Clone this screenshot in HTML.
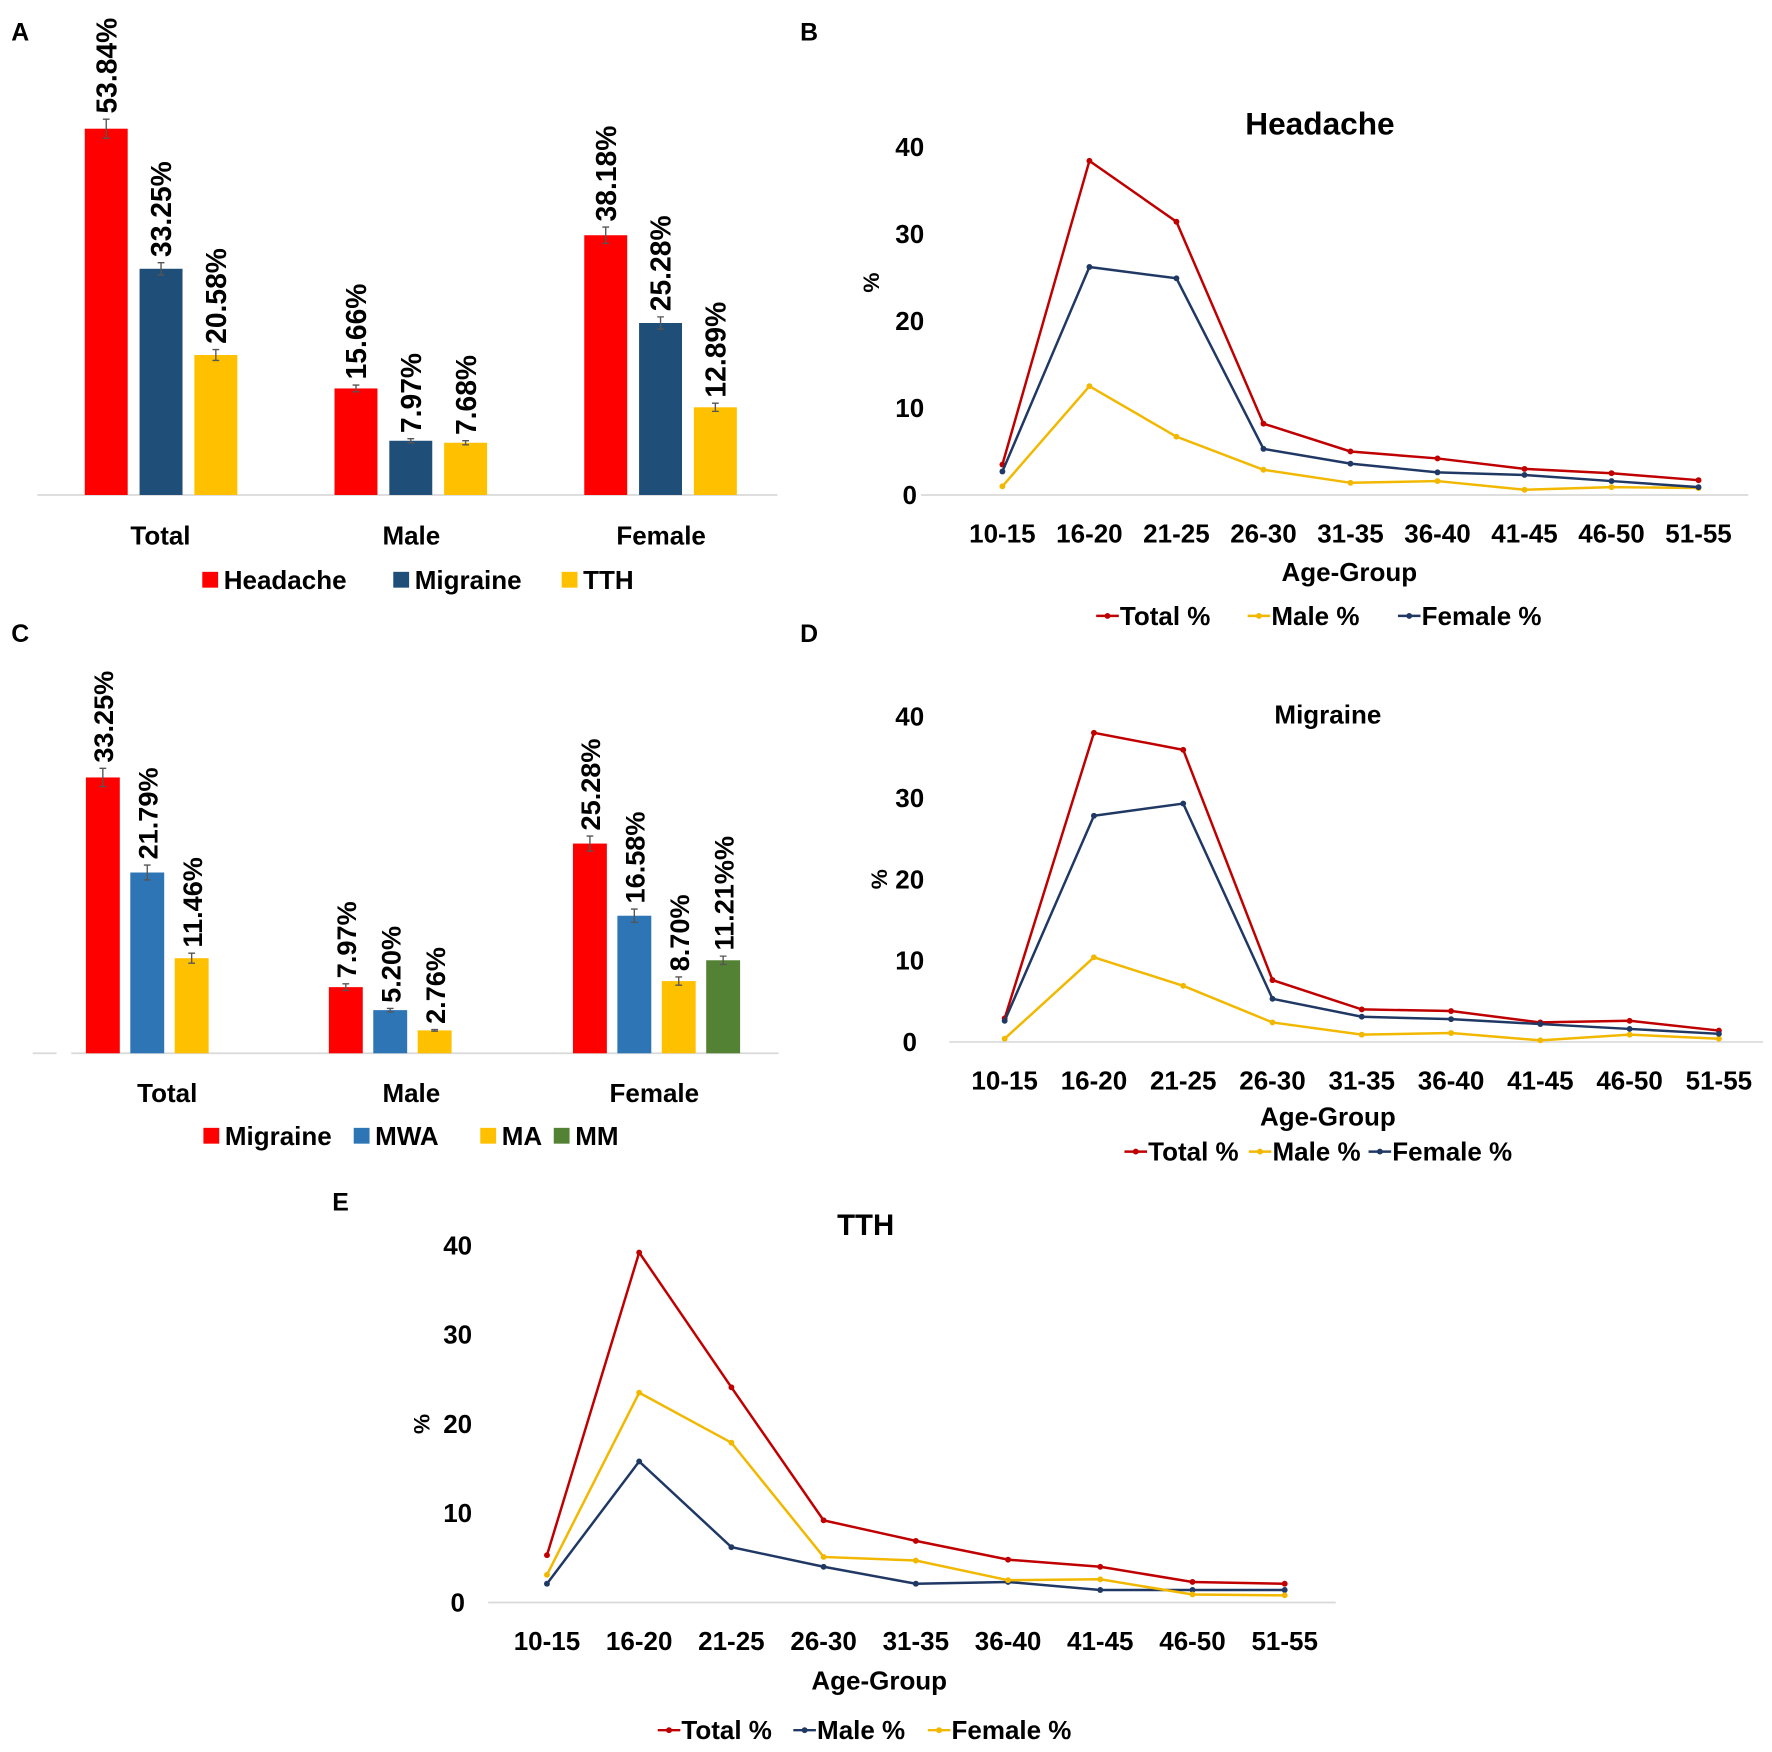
<!DOCTYPE html>
<html><head><meta charset="utf-8">
<style>
html,body{margin:0;padding:0;background:#fff;}
svg{display:block;font-family:"Liberation Sans Narrow","Liberation Sans",sans-serif;font-weight:bold;}
</style></head>
<body>
<svg id="fig" width="1772" height="1752" viewBox="0 0 1568 1550.3" preserveAspectRatio="none" xmlns="http://www.w3.org/2000/svg">
<g fill="#000" font-family="Liberation Sans, sans-serif" font-size="22">
<text x="10" y="36">A</text>
<text x="708" y="36">B</text>
<text x="10" y="568">C</text>
<text x="708" y="568">D</text>
<text x="294" y="1071">E</text>
</g>
</svg>
<script>
// ---- Panel A data ----
const aCategories = ["Total","Male","Female"];
const aSeriesNames = ["Headache","Migraine","TTH"];
const aHeadache = [53.84,15.66,38.18];
const aMigraine = [33.25,7.97,25.28];
const aTTH = [20.58,7.68,12.89];
const aHeadacheErr = [1.4,0.5,1.2];
const aMigraineErr = [0.9,0.3,0.9];
const aTTHErr = [0.8,0.3,0.6];
const aLabels = [["53.84%","15.66%","38.18%"],["33.25%","7.97%","25.28%"],["20.58%","7.68%","12.89%"]];
// ---- Panel C data ----
const cCategories = ["Total","Male","Female"];
const cSeriesNames = ["Migraine","MWA","MA","MM"];
const cMigraine = [33.25,7.97,25.28];
const cMWA = [21.79,5.20,16.58];
const cMA = [11.46,2.76,8.70];
const cMM = [null,null,11.21];
const cMigraineErr = [1.1,0.4,0.9];
const cMWAErr = [0.9,0.2,0.8];
const cMAErr = [0.6,0.1,0.5];
const cMMErr = [null,null,0.5];
const cLabels = [["33.25%","7.97%","25.28%"],["21.79%","5.20%","16.58%"],["11.46%","2.76%","8.70%"],[null,null,"11.21%%"]];
// ---- Line chart data ----
const ageGroups = ["10-15","16-20","21-25","26-30","31-35","36-40","41-45","46-50","51-55"];
const yTicks = [0,10,20,30,40];
const bTotal = [3.5,38.4,31.4,8.2,5.0,4.2,3.0,2.5,1.7];
const bMale = [1.0,12.5,6.7,2.9,1.4,1.6,0.6,0.9,0.8];
const bFemale = [2.7,26.2,24.9,5.3,3.6,2.6,2.3,1.6,0.9];
const dTotal = [2.9,38.0,35.9,7.6,4.0,3.8,2.4,2.6,1.4];
const dMale = [0.4,10.4,6.9,2.4,0.9,1.1,0.2,0.9,0.4];
const dFemale = [2.6,27.8,29.3,5.3,3.1,2.8,2.2,1.6,1.0];
const eTotal = [5.3,39.2,24.1,9.2,6.9,4.8,4.0,2.3,2.1];
const eMale = [2.1,15.8,6.2,4.0,2.1,2.3,1.4,1.4,1.4];
const eFemale = [3.1,23.5,17.9,5.1,4.7,2.5,2.6,0.9,0.8];

const NS="http://www.w3.org/2000/svg";
const svg=document.getElementById('fig');
function mk(tag,attrs,parent,txt){const e=document.createElementNS(NS,tag);for(const k in attrs)e.setAttribute(k,attrs[k]);if(txt!==undefined)e.textContent=txt;(parent||svg).appendChild(e);return e;}

function barChart(o){
  const g=mk('g',{});
  
  
  const y=v=>o.base-v*o.scale;
  const ax=mk('line',{x1:o.axisX0,x2:o.axisX1,y1:o.base,y2:o.base,stroke:'#d9d9d9','stroke-width':1.5},g);
  
  
  o.series.forEach((s,si)=>{
    s.vals.forEach((v,ci)=>{
      if(v===null)return;
      const x=o.groupX[ci]+si*o.step;
      const r=mk('rect',{x:x,y:y(v),width:o.bw,height:v*o.scale,fill:o.colors[si]},g);
      
      
      const cx=x+o.bw/2, e=s.err[ci];
      const eb=mk('path',{d:`M${cx-3},${y(v+e)}H${cx+3}M${cx},${y(v+e)}V${y(v-e)}M${cx-3},${y(v-e)}H${cx+3}`,stroke:'#555','stroke-width':1.2,fill:'none'},g);
      
      
      const ly=y(v+e)-5;
      const t=mk('text',{x:cx+9,y:ly,transform:`rotate(-90 ${cx+9} ${ly})`,'font-size':o.lblSize,fill:'#000'},g,s.labels[ci]);
      
      
    });
  });
  o.cats.forEach((c,ci)=>{
    const t=mk('text',{x:o.catX[ci],y:o.catY,'text-anchor':'middle','font-size':23},g,c);
    
    
  });
  o.seriesNames.forEach((n,si)=>{
    const r=mk('rect',{x:o.legX[si],y:o.legY-15,width:14,height:14,fill:o.colors[si]},g);
    
    
    const t=mk('text',{x:o.legX[si]+19,y:o.legY,'font-size':23},g,n);
    
    
  });
}

barChart({name:'panel-a-bar-chart',cats:aCategories,seriesNames:aSeriesNames,base:438,scale:6.02,axisX0:33,axisX1:688,
  groupX:[75,296,517],step:48.5,bw:38,colors:['#ff0000','#1f4e79','#ffc000'],lblSize:25,
  series:[{vals:aHeadache,err:aHeadacheErr,labels:aLabels[0]},{vals:aMigraine,err:aMigraineErr,labels:aLabels[1]},{vals:aTTH,err:aTTHErr,labels:aLabels[2]}],
  catX:[142,364,585],catY:482,legX:[179,348,497],legY:521});
barChart({name:'panel-c-bar-chart',cats:cCategories,seriesNames:cSeriesNames,base:932,scale:7.34,axisX0:63,axisX1:689,
  groupX:[76,291,507],step:39.3,bw:30,colors:['#ff0000','#2e75b6','#ffc000','#548235'],lblSize:24,
  series:[{vals:cMigraine,err:cMigraineErr,labels:cLabels[0]},{vals:cMWA,err:cMWAErr,labels:cLabels[1]},{vals:cMA,err:cMAErr,labels:cLabels[2]},{vals:cMM,err:cMMErr,labels:cLabels[3]}],
  catX:[148,364,579],catY:975,legX:[180,313,425,490],legY:1013});
const stub=mk('line',{x1:29,x2:50,y1:932,y2:932,stroke:'#d9d9d9','stroke-width':1.5});



function lineChart(o){
  const g=mk('g',{});
  
  
  const y=v=>o.base-v*o.scale, x=i=>o.x0+i*o.dx;
  const ax=mk('line',{x1:o.axisX0,x2:o.axisX1,y1:o.base,y2:o.base,stroke:'#d9d9d9','stroke-width':1.5},g);
  
  
  const ti=mk('text',{x:o.titleX,y:o.titleY,'text-anchor':'middle','font-size':o.titleSize},g,o.title);
  
  
  yTicks.forEach(t=>{
    const e=mk('text',{x:o.tickX,y:y(t)+8,'text-anchor':'middle','font-size':23},g,String(t));
    
    
  });
  const pc=mk('text',{x:o.pctX,y:o.pctY,transform:`rotate(-90 ${o.pctX} ${o.pctY})`,'text-anchor':'middle','font-size':20},g,'%');
  
  
  ageGroups.forEach((a,i)=>{
    const e=mk('text',{x:x(i),y:o.base+42,'text-anchor':'middle','font-size':23},g,a);
    
    
  });
  const xt=mk('text',{x:o.xtX,y:o.xtY,'text-anchor':'middle','font-size':23},g,'Age-Group');
  
  
  o.series.forEach((s,si)=>{
    const p=mk('polyline',{points:s.vals.map((v,i)=>x(i)+','+y(v)).join(' '),fill:'none',stroke:s.color,'stroke-width':2.2},g);
    
    
    s.vals.forEach((v,i)=>{
      const c=mk('circle',{cx:x(i),cy:y(v),r:2.6,fill:s.color},g);
      
      
    });
    const lx=o.legX[si];
    const l=mk('line',{x1:lx,x2:lx+20,y1:o.legY-8,y2:o.legY-8,stroke:s.color,'stroke-width':2.2},g);
    
    
    const lc=mk('circle',{cx:lx+10,cy:o.legY-8,r:2.6,fill:s.color},g);
    
    
    const lt=mk('text',{x:lx+21,y:o.legY,'font-size':23},g,s.label);
    
    
  });
}
const RED='#c00000',NAVY='#203864',YEL='#f2b800';
lineChart({name:'panel-b-headache-line-chart',title:'Headache',titleX:1168,titleY:119,titleSize:28,base:438,scale:7.7,x0:887,dx:77,axisX0:815,axisX1:1547,
  tickX:805,pctX:778,pctY:250,xtX:1194,xtY:514,legY:553,legX:[970,1104,1237],
  series:[{key:'total',label:'Total %',vals:bTotal,color:RED},{key:'male',label:'Male %',vals:bMale,color:YEL},{key:'female',label:'Female %',vals:bFemale,color:NAVY}]});
lineChart({name:'panel-d-migraine-line-chart',title:'Migraine',titleX:1175,titleY:640,titleSize:23,base:922,scale:7.2,x0:889,dx:79,axisX0:840,axisX1:1560,
  tickX:805,pctX:785,pctY:778,xtX:1175,xtY:996,legY:1027,legX:[995,1105,1211],
  series:[{key:'total',label:'Total %',vals:dTotal,color:RED},{key:'male',label:'Male %',vals:dMale,color:YEL},{key:'female',label:'Female %',vals:dFemale,color:NAVY}]});
lineChart({name:'panel-e-tth-line-chart',title:'TTH',titleX:766,titleY:1093,titleSize:26,base:1418,scale:7.9,x0:484,dx:81.6,axisX0:432,axisX1:1182,
  tickX:405,pctX:380,pctY:1260,xtX:778,xtY:1495,legY:1539,legX:[582,702,821],
  series:[{key:'total',label:'Total %',vals:eTotal,color:RED},{key:'male',label:'Male %',vals:eMale,color:NAVY},{key:'female',label:'Female %',vals:eFemale,color:YEL}]});
</script>
</body></html>
